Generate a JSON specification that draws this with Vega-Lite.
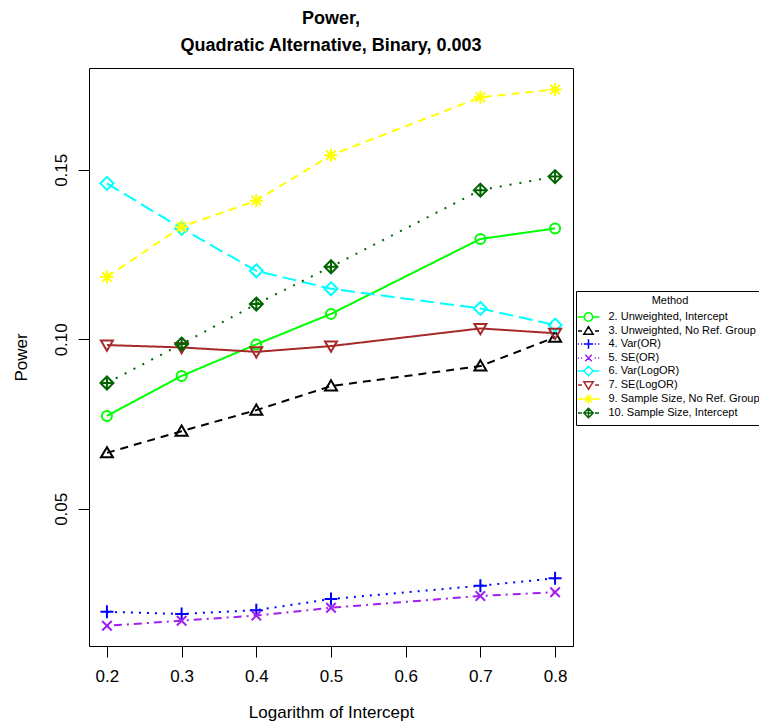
{
  "$schema": "https://vega.github.io/schema/vega-lite/v6.json",
  "width": 484,
  "height": 578,
  "autosize": {"type": "none"},
  "padding": {"left": 89, "top": 68, "right": 186, "bottom": 81},
  "background": "white",
  "title": {
    "text": ["Power,", "Quadratic Alternative, Binary, 0.003"],
    "anchor": "middle",
    "font": "Liberation Sans",
    "fontSize": 18,
    "fontWeight": "bold",
    "lineHeight": 27,
    "offset": 13,
    "color": "black"
  },
  "data": {
    "values": [
      {"x": 0.2, "Method": "2. Unweighted, Intercept", "Power": 0.0774},
      {"x": 0.3, "Method": "2. Unweighted, Intercept", "Power": 0.0892},
      {"x": 0.4, "Method": "2. Unweighted, Intercept", "Power": 0.0985},
      {"x": 0.5, "Method": "2. Unweighted, Intercept", "Power": 0.1075},
      {"x": 0.7, "Method": "2. Unweighted, Intercept", "Power": 0.1296},
      {"x": 0.8, "Method": "2. Unweighted, Intercept", "Power": 0.1327},
      {"x": 0.2, "Method": "3. Unweighted, No Ref. Group", "Power": 0.0665},
      {"x": 0.3, "Method": "3. Unweighted, No Ref. Group", "Power": 0.0729},
      {"x": 0.4, "Method": "3. Unweighted, No Ref. Group", "Power": 0.0791},
      {"x": 0.5, "Method": "3. Unweighted, No Ref. Group", "Power": 0.0862},
      {"x": 0.7, "Method": "3. Unweighted, No Ref. Group", "Power": 0.0921},
      {"x": 0.8, "Method": "3. Unweighted, No Ref. Group", "Power": 0.1006},
      {"x": 0.2, "Method": "4. Var(OR)", "Power": 0.0196},
      {"x": 0.3, "Method": "4. Var(OR)", "Power": 0.0190},
      {"x": 0.4, "Method": "4. Var(OR)", "Power": 0.0201},
      {"x": 0.5, "Method": "4. Var(OR)", "Power": 0.0234},
      {"x": 0.7, "Method": "4. Var(OR)", "Power": 0.0273},
      {"x": 0.8, "Method": "4. Var(OR)", "Power": 0.0295},
      {"x": 0.2, "Method": "5. SE(OR)", "Power": 0.0155},
      {"x": 0.3, "Method": "5. SE(OR)", "Power": 0.0170},
      {"x": 0.4, "Method": "5. SE(OR)", "Power": 0.0185},
      {"x": 0.5, "Method": "5. SE(OR)", "Power": 0.0208},
      {"x": 0.7, "Method": "5. SE(OR)", "Power": 0.0243},
      {"x": 0.8, "Method": "5. SE(OR)", "Power": 0.0254},
      {"x": 0.2, "Method": "6. Var(LogOR)", "Power": 0.1460},
      {"x": 0.3, "Method": "6. Var(LogOR)", "Power": 0.1327},
      {"x": 0.4, "Method": "6. Var(LogOR)", "Power": 0.1202},
      {"x": 0.5, "Method": "6. Var(LogOR)", "Power": 0.1149},
      {"x": 0.7, "Method": "6. Var(LogOR)", "Power": 0.1091},
      {"x": 0.8, "Method": "6. Var(LogOR)", "Power": 0.1042},
      {"x": 0.2, "Method": "7. SE(LogOR)", "Power": 0.0983},
      {"x": 0.3, "Method": "7. SE(LogOR)", "Power": 0.0976},
      {"x": 0.4, "Method": "7. SE(LogOR)", "Power": 0.0963},
      {"x": 0.5, "Method": "7. SE(LogOR)", "Power": 0.0980},
      {"x": 0.7, "Method": "7. SE(LogOR)", "Power": 0.1032},
      {"x": 0.8, "Method": "7. SE(LogOR)", "Power": 0.1018},
      {"x": 0.2, "Method": "9. Sample Size, No Ref. Group", "Power": 0.1184},
      {"x": 0.3, "Method": "9. Sample Size, No Ref. Group", "Power": 0.1332},
      {"x": 0.4, "Method": "9. Sample Size, No Ref. Group", "Power": 0.1409},
      {"x": 0.5, "Method": "9. Sample Size, No Ref. Group", "Power": 0.1543},
      {"x": 0.7, "Method": "9. Sample Size, No Ref. Group", "Power": 0.1714},
      {"x": 0.8, "Method": "9. Sample Size, No Ref. Group", "Power": 0.1737},
      {"x": 0.2, "Method": "10. Sample Size, Intercept", "Power": 0.0871},
      {"x": 0.3, "Method": "10. Sample Size, Intercept", "Power": 0.0986},
      {"x": 0.4, "Method": "10. Sample Size, Intercept", "Power": 0.1104},
      {"x": 0.5, "Method": "10. Sample Size, Intercept", "Power": 0.1214},
      {"x": 0.7, "Method": "10. Sample Size, Intercept", "Power": 0.1440},
      {"x": 0.8, "Method": "10. Sample Size, Intercept", "Power": 0.1480}
    ]
  },
  "encoding": {
    "x": {
      "field": "x",
      "type": "quantitative",
      "scale": {"domain": [0.176, 0.824], "zero": false, "nice": false},
      "axis": {
        "title": "Logarithm of Intercept",
        "values": [0.2, 0.3, 0.4, 0.5, 0.6, 0.7, 0.8],
        "format": ".1f",
        "labelPadding": 11,
        "titlePadding": 20
      }
    },
    "y": {
      "field": "Power",
      "type": "quantitative",
      "scale": {"domain": [0.00953, 0.18003], "zero": false, "nice": false},
      "axis": {
        "title": "Power",
        "values": [0.05, 0.10, 0.15],
        "format": ".2f",
        "labelAngle": -90,
        "labelPadding": 8,
        "titlePadding": 22
      }
    }
  },
  "layer": [
    {
      "mark": {"type": "line", "strokeWidth": 2, "strokeCap": "butt"},
      "encoding": {
        "stroke": {
          "field": "Method",
          "type": "nominal",
          "legend": null,
          "scale": {
            "domain": ["2. Unweighted, Intercept", "3. Unweighted, No Ref. Group", "4. Var(OR)", "5. SE(OR)", "6. Var(LogOR)", "7. SE(LogOR)", "9. Sample Size, No Ref. Group", "10. Sample Size, Intercept"],
            "range": ["#00FF00", "#000000", "#0000FF", "#A020F0", "#00FFFF", "#A52A2A", "#FFFF00", "#006400"]
          }
        },
        "strokeDash": {
          "field": "Method",
          "type": "nominal",
          "legend": null,
          "scale": {
            "domain": ["2. Unweighted, Intercept", "3. Unweighted, No Ref. Group", "4. Var(OR)", "5. SE(OR)", "6. Var(LogOR)", "7. SE(LogOR)", "9. Sample Size, No Ref. Group", "10. Sample Size, Intercept"],
            "range": [[1, 0], [8, 6], [2, 6], [2, 5, 8, 5], [14, 6], [1, 0], [8, 6], [2, 8]]
          }
        }
      }
    },
    {
      "mark": {"type": "point", "filled": false, "strokeWidth": 2, "size": 100, "opacity": 1},
      "encoding": {
        "stroke": {
          "field": "Method",
          "type": "nominal",
          "legend": null
        },
        "shape": {
          "field": "Method",
          "type": "nominal",
          "legend": null,
          "scale": {
            "domain": ["2. Unweighted, Intercept", "3. Unweighted, No Ref. Group", "4. Var(OR)", "5. SE(OR)", "6. Var(LogOR)", "7. SE(LogOR)", "9. Sample Size, No Ref. Group", "10. Sample Size, Intercept"],
            "range": [
              "circle",
              "M0,-1.15L1.2,0.9L-1.2,0.9Z",
              "M-1.3,0H1.3M0,-1.3V1.3",
              "M-0.95,-0.95L0.95,0.95M-0.95,0.95L0.95,-0.95",
              "M0,-1.3L1.3,0L0,1.3L-1.3,0Z",
              "M0,1.15L1.2,-0.9L-1.2,-0.9Z",
              "M-1.3,0H1.3M0,-1.3V1.3M-0.95,-0.95L0.95,0.95M-0.95,0.95L0.95,-0.95",
              "M0,-1.3L1.3,0L0,1.3L-1.3,0ZM-1.3,0H1.3M0,-1.3V1.3"
            ]
          }
        }
      }
    },
    {
      "mark": {"type": "point", "filled": false, "strokeWidth": 1.5, "size": 0, "opacity": 1},
      "encoding": {
        "color": {
          "field": "Method",
          "type": "nominal",
          "scale": {
            "domain": ["2. Unweighted, Intercept", "3. Unweighted, No Ref. Group", "4. Var(OR)", "5. SE(OR)", "6. Var(LogOR)", "7. SE(LogOR)", "9. Sample Size, No Ref. Group", "10. Sample Size, Intercept"],
            "range": ["#00FF00", "#000000", "#0000FF", "#A020F0", "#00FFFF", "#A52A2A", "#FFFF00", "#006400"]
          },
          "legend": {
            "title": "Method",
            "orient": "none",
            "legendX": 487,
            "legendY": 223,
            "titleAnchor": "middle",
            "titleFont": "Liberation Sans",
            "titleFontSize": 11,
            "titleFontWeight": "normal",
            "titleColor": "black",
            "titlePadding": 5,
            "labelFont": "Liberation Sans",
            "labelFontSize": 11,
            "labelColor": "black",
            "labelOffset": 14,
            "symbolOffset": 2.5,
            "symbolSize": 100,
            "symbolStrokeWidth": 1.5,
            "rowPadding": -2,
            "padding": 4,
            "strokeColor": "black",
            "fillColor": "white"
          }
        },
        "shape": {
          "field": "Method",
          "type": "nominal",
          "scale": {
            "domain": ["2. Unweighted, Intercept", "3. Unweighted, No Ref. Group", "4. Var(OR)", "5. SE(OR)", "6. Var(LogOR)", "7. SE(LogOR)", "9. Sample Size, No Ref. Group", "10. Sample Size, Intercept"],
            "range": [
              "M-2.2,0H-0.83M0.83,0H2.2M-0.83,0A0.83,0.83 0 1,0 0.83,0A0.83,0.83 0 1,0 -0.83,0",
              "M-2.1,0H-1.3M1.3,0H2.1M0,-0.88L0.94,0.66L-0.94,0.66Z",
              "M-2.15,0H-1.93M-1.49,0H-1.27M1.27,0H1.49M1.93,0H2.15M-0.94,0H0.94M0,-0.94V0.94",
              "M-2.15,0H-1.93M-1.49,0H-1.27M1.27,0H1.49M1.93,0H2.15M-0.66,-0.66L0.66,0.66M-0.66,0.66L0.66,-0.66",
              "M-2.2,0H-0.94M0.94,0H2.2M0,-0.94L0.94,0L0,0.94L-0.94,0Z",
              "M-2.1,0H-1.3M1.3,0H2.1M0,0.88L0.94,-0.66L-0.94,-0.66Z",
              "M-2.2,0H2.2M0,-0.94V0.94M-0.66,-0.66L0.66,0.66M-0.66,0.66L0.66,-0.66",
              "M-2.1,0H-1.3M1.3,0H2.1M0,-0.94L0.94,0L0,0.94L-0.94,0ZM-0.94,0H0.94M0,-0.94V0.94"
            ]
          },
          "legend": {
            "title": "Method",
            "orient": "none",
            "legendX": 487,
            "legendY": 223
          }
        }
      }
    }
  ],
  "resolve": {"scale": {"shape": "independent", "color": "independent"}},
  "config": {
    "view": {"stroke": "black", "strokeWidth": 1},
    "axis": {
      "domain": false,
      "grid": false,
      "ticks": true,
      "tickColor": "black",
      "tickSize": 11,
      "tickWidth": 1,
      "labelFont": "Liberation Sans",
      "labelFontSize": 17,
      "labelColor": "black",
      "titleFont": "Liberation Sans",
      "titleFontSize": 17,
      "titleFontWeight": "normal",
      "titleColor": "black"
    }
  }
}
